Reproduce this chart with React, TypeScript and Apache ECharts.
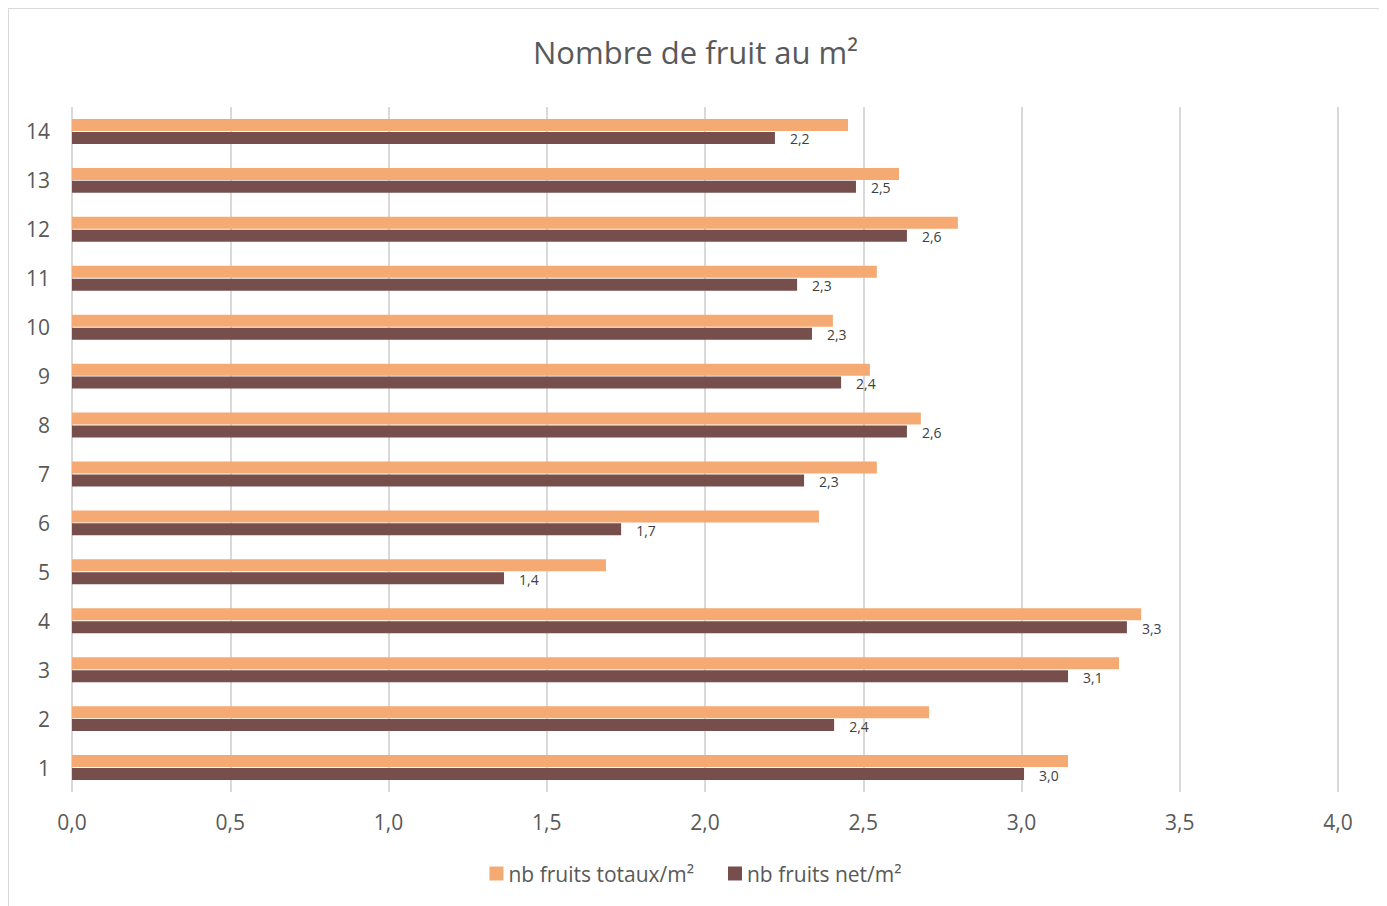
import React, { useEffect, useRef } from "react";
import * as echarts from "echarts";

const categories = ["1", "2", "3", "4", "5", "6", "7", "8", "9", "10", "11", "12", "13", "14"];
const totaux = [3.147, 2.708, 3.308, 3.378, 1.687, 2.36, 2.543, 2.682, 2.521, 2.404, 2.543, 2.799, 2.613, 2.452];
const net = [3.008, 2.408, 3.147, 3.333, 1.365, 1.735, 2.313, 2.638, 2.43, 2.338, 2.291, 2.638, 2.477, 2.221];
const xTicks = { min: 0, max: 4, interval: 0.5 };

const FONT = "'Open Sans', sans-serif";
const fmt = (v: number) => v.toFixed(1).replace(".", ",");

export default function App() {
  const ref = useRef<HTMLDivElement>(null);
  useEffect(() => {
    if (!ref.current) return;
    const chart = echarts.init(ref.current, undefined, { renderer: "svg" });
    chart.setOption({
      animation: false,
      backgroundColor: "#ffffff",
      title: {
        text: "Nombre de fruit au m²",
        left: "center",
        top: 22,
        textStyle: { fontFamily: FONT, fontSize: 31, fontWeight: "normal", color: "#595959" },
      },
      legend: {
        data: ["nb fruits totaux/m²", "nb fruits net/m²"],
        bottom: 17,
        left: "center",
        itemWidth: 14,
        itemHeight: 14,
        itemGap: 34,
        icon: "rect",
        textStyle: { fontFamily: FONT, fontSize: 21, color: "#595959" },
      },
      grid: { left: 63, right: 44, top: 98, bottom: 114, containLabel: false },
      xAxis: {
        type: "value",
        min: xTicks.min,
        max: xTicks.max,
        interval: xTicks.interval,
        axisLine: { show: false },
        axisTick: { show: false },
        axisLabel: {
          formatter: (v: number) => fmt(v),
          fontFamily: FONT,
          fontSize: 21,
          color: "#595959",
          margin: 19,
        },
        splitLine: { show: true, lineStyle: { color: "#d9d9d9", width: 2 } },
      },
      yAxis: {
        type: "category",
        data: categories,
        axisLine: { show: false },
        axisTick: { show: false },
        axisLabel: { fontFamily: FONT, fontSize: 21, color: "#595959", margin: 22 },
        splitLine: { show: false },
      },
      series: [
        {
          name: "nb fruits totaux/m²",
          type: "bar",
          data: totaux,
          barWidth: 12,
          barGap: "8%",
          itemStyle: { color: "#F4AA72" },
        },
        {
          name: "nb fruits net/m²",
          type: "bar",
          data: net,
          barWidth: 12,
          barGap: "8%",
          itemStyle: { color: "#764E4C" },
          label: {
            show: true,
            position: "right",
            distance: 15,
            offset: [0, 1],
            formatter: (p: any) => fmt(p.value),
            fontFamily: FONT,
            fontSize: 14,
            color: "#404040",
          },
        },
      ],
    });
    return () => chart.dispose();
  }, []);
  return (
    <div
      style={{
        width: 1373,
        height: 897,
        border: "1px solid #d9d9d9",
        borderBottom: "none",
      }}
    >
      <div ref={ref} style={{ width: 1373, height: 897 }} />
    </div>
  );
}
